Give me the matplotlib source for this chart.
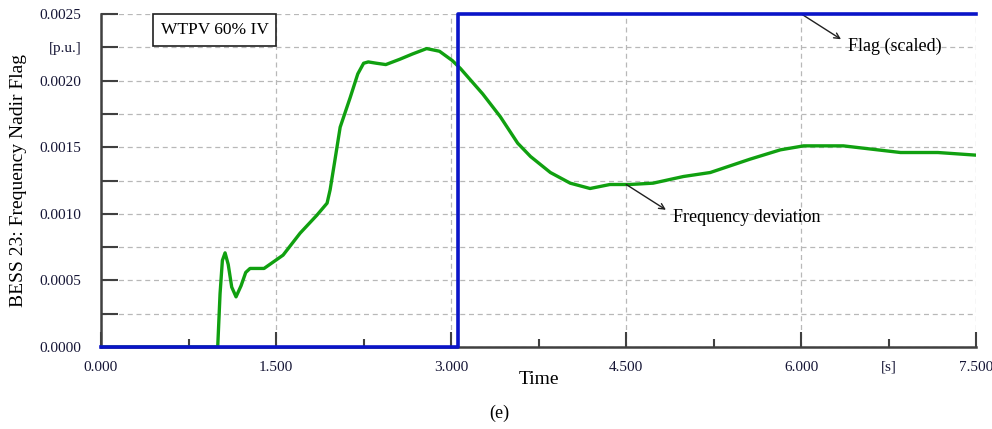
import matplotlib.pyplot as plt
import numpy as np

# frequency deviation trace
t_freq = [0.0, 1.0, 1.02, 1.04, 1.063, 1.09, 1.12, 1.157, 1.2, 1.24, 1.277, 1.397,
          1.56, 1.706, 1.85, 1.937, 1.963, 2.0, 2.049, 2.134, 2.2, 2.25, 2.29,
          2.36, 2.44, 2.56, 2.67, 2.79, 2.9, 3.01, 3.08, 3.27, 3.42, 3.57, 3.68,
          3.85, 4.02, 4.19, 4.36, 4.53, 4.73, 4.99, 5.22, 5.56, 5.82, 6.02, 6.36,
          6.85, 7.17, 7.5]
y_freq = [0.0, 0.0, 0.0004, 0.00065, 0.000707, 0.00062, 0.00045, 0.000377,
          0.00046, 0.00056, 0.00059, 0.00059, 0.00069, 0.000855, 0.00099,
          0.00108, 0.00118, 0.00138, 0.00165, 0.00187, 0.00205, 0.00213,
          0.00214, 0.00213, 0.00212, 0.00216, 0.0022, 0.00224, 0.00222, 0.00215,
          0.00209, 0.0019, 0.00173, 0.00153, 0.00143, 0.00131, 0.00123, 0.00119,
          0.00122, 0.00122, 0.00123, 0.00128, 0.00131, 0.00141, 0.00148,
          0.00151, 0.00151, 0.00146, 0.00146, 0.00144]

# scaled flag
t_flag = [0.0, 3.06, 3.06, 7.5]
y_flag = [0.0, 0.0, 0.0025, 0.0025]

x_ticks = [0.0, 1.5, 3.0, 4.5, 6.0, 7.5]
x_tick_labels = ["0.000", "1.500", "3.000", "4.500", "6.000", "7.500"]
y_ticks = [0.0, 0.0005, 0.0010, 0.0015, 0.0020, 0.0025]
y_tick_labels = ["0.0000", "0.0005", "0.0010", "0.0015", "0.0020", "0.0025"]

plt.rcParams["font.family"] = ["Liberation Serif", "DejaVu Serif"]
lab_col = "#151535"

fig = plt.figure(figsize=(9.92, 4.29), dpi=100)
ax = fig.add_axes([0.1018, 0.191, 0.8825, 0.7765])

ax.plot(t_flag, y_flag, color="#0a14c8", lw=2.6, zorder=4, clip_on=False)
ax.plot(t_freq, y_freq, color="#10a010", lw=2.4, zorder=3)

ax.set_xlim(0, 7.5)
ax.set_ylim(0, 0.0025)

ax.set_xticks(x_ticks)
ax.set_xticklabels(x_tick_labels, color=lab_col, fontsize=11)
ax.set_xticks([0.75, 2.25, 3.75, 5.25, 6.75], minor=True)
ax.set_xticklabels(["", "", "", "", "[s]"], minor=True, color=lab_col, fontsize=11)
ax.set_yticks(y_ticks)
ax.set_yticklabels(y_tick_labels, color=lab_col, fontsize=11)
ax.set_yticks([0.00025, 0.00075, 0.00125, 0.00175, 0.00225], minor=True)
ax.set_yticklabels(["", "", "", "", "[p.u.]"], minor=True, color=lab_col, fontsize=11)

ax.tick_params(axis="x", which="major", direction="in", length=11, width=1.5,
               color="#404040", pad=10)
ax.tick_params(axis="x", which="minor", direction="in", length=6, width=1.5,
               color="#404040", pad=10)
ax.tick_params(axis="y", which="both", direction="in", length=12, width=1.5,
               color="#404040", pad=14)

ax.grid(True, which="major", axis="x", color="#b8b8b8", ls=(0, (4, 3)), lw=0.9)
ax.grid(True, which="both", axis="y", color="#b8b8b8", ls=(0, (4, 3)), lw=0.9)

for s in ["top", "right"]:
    ax.spines[s].set_visible(False)
for s in ["left", "bottom"]:
    ax.spines[s].set_color("#404040")
    ax.spines[s].set_linewidth(1.8)

ax.set_xlabel("Time", fontsize=14, labelpad=-2)
ax.set_ylabel("BESS 23: Frequency Nadir Flag", fontsize=14)
ax.yaxis.set_label_coords(-0.084, 0.5)

ax.text(0.068, 0.952, "WTPV 60% IV", transform=ax.transAxes, fontsize=12.5,
        va="center", ha="left",
        bbox=dict(boxstyle="square,pad=0.45", fc="white", ec="#202020", lw=1.2))

ax.annotate("", xy=(6.34, 0.00231), xytext=(6.0, 0.0025),
            arrowprops=dict(arrowstyle="->", color="#202020", lw=1,
                            shrinkA=0, shrinkB=0),
            annotation_clip=False)
ax.text(6.4, 0.00226, "Flag (scaled)", fontsize=13, va="center", ha="left")
ax.annotate("", xy=(4.84, 0.00103), xytext=(4.5, 0.00122),
            arrowprops=dict(arrowstyle="->", color="#202020", lw=1,
                            shrinkA=0, shrinkB=0))
ax.text(4.9, 0.00097, "Frequency deviation", fontsize=13, va="center", ha="left")

fig.text(0.503, 0.037, "(e)", fontsize=13, ha="center", va="center")

fig.savefig("out.png", dpi=100)
